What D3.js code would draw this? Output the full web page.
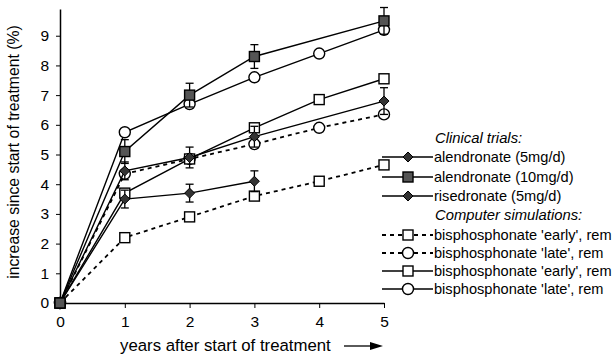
<!DOCTYPE html>
<html>
<head>
<meta charset="utf-8">
<script src="https://cdn.jsdelivr.net/npm/d3@7"></script>
<style>
  body { margin: 0; background: #fff; }
  svg { display: block; font-family: "Liberation Sans", Arial, sans-serif; }
</style>
</head>
<body>
<div id="chart"></div>
<script>
// clinical trials (years, mean, error)
const aln5Years = [0, 1, 2, 3, 5];
const aln5Vals = [0, 4.45, 4.9, 5.6, 6.8];
const aln5Err = [0, 0.3, 0.35, 0.35, 0.45];

const aln10Years = [0, 1, 2, 3, 5];
const aln10Vals = [0, 5.1, 7.0, 8.3, 9.5];
const aln10Err = [0, 0.4, 0.4, 0.4, 0.45];

const risYears = [0, 1, 2, 3];
const risVals = [0, 3.5, 3.7, 4.1];
const risErr = [0, 0.3, 0.3, 0.35];

// computer simulations
const simYears = [0, 1, 2, 3, 4, 5];
const earlyDashed = [0, 2.2, 2.9, 3.6, 4.1, 4.65];
const lateDashed = [0, 4.35, 4.85, 5.35, 5.9, 6.35];
const earlySolid = [0, 3.7, 4.85, 5.9, 6.85, 7.55];
const lateSolid = [0, 5.75, 6.7, 7.6, 8.4, 9.2];

const xTicks = [0, 1, 2, 3, 4, 5];
const yTicks = [0, 1, 2, 3, 4, 5, 6, 7, 8, 9];

// the labels run past the right edge in the original, only the start shows
const legendLabels = [
    "alendronate (5mg/d)",
    "alendronate (10mg/d)",
    "risedronate (5mg/d)",
    "bisphosphonate 'early', rem",
    "bisphosphonate 'late', rem",
    "bisphosphonate 'early', rem",
    "bisphosphonate 'late', rem"
];

const width = 615;
const height = 357;

const x = d3.scaleLinear().domain([0, 5]).range([60, 384]);
const y = d3.scaleLinear().domain([0, 9.9]).range([303, 9]);

const svg = d3.select("#chart")
    .append("svg")
    .attr("width", width)
    .attr("height", height);

// axes
const xAxis = svg.append("g")
    .attr("transform", "translate(0," + y(0) + ")")
    .call(d3.axisBottom(x).tickValues(xTicks).tickFormat(d3.format("d"))
        .tickSize(5).tickPadding(8).tickSizeOuter(0));
xAxis.select(".domain").attr("stroke-width", 1.5);
xAxis.selectAll("text").attr("font-size", 15.5).attr("fill", "#000");

const yAxis = svg.append("g")
    .attr("transform", "translate(" + x(0) + ",0)")
    .call(d3.axisLeft(y).tickValues(yTicks).tickFormat(d3.format("d"))
        .tickSize(4).tickPadding(7).tickSizeOuter(0));
yAxis.select(".domain").attr("stroke-width", 1.5);
yAxis.selectAll("text").attr("font-size", 15.5).attr("fill", "#000");

svg.append("text")
    .attr("transform", "translate(19,152) rotate(-90)")
    .attr("text-anchor", "middle")
    .attr("font-size", 15.8)
    .text("increase since start of treatment (%)");

svg.append("text")
    .attr("x", 120)
    .attr("y", 351)
    .attr("font-size", 16.8)
    .text("years after start of treatment");

// arrow
svg.append("line")
    .attr("x1", 344).attr("x2", 372)
    .attr("y1", 346).attr("y2", 346)
    .attr("stroke", "#000").attr("stroke-width", 1.3);
svg.append("path")
    .attr("d", "M370,342 L383,346 L370,350 Z")
    .attr("fill", "#000");

const line = d3.line()
    .x(d => x(d[0]))
    .y(d => y(d[1]));

function marker(g, type, cx, cy) {
    if (type === "square") {
        g.append("rect")
            .attr("x", cx - 5).attr("y", cy - 5)
            .attr("width", 10).attr("height", 10)
            .attr("fill", "#fff").attr("stroke", "#000").attr("stroke-width", 1.4);
    } else if (type === "gsquare") {
        g.append("rect")
            .attr("x", cx - 5).attr("y", cy - 5)
            .attr("width", 10).attr("height", 10)
            .attr("fill", "#555").attr("stroke", "#000").attr("stroke-width", 1.4);
    } else if (type === "circle") {
        g.append("circle")
            .attr("cx", cx).attr("cy", cy).attr("r", 5.5)
            .attr("fill", "#fff").attr("stroke", "#000").attr("stroke-width", 1.4);
    } else if (type === "diamond") {
        g.append("path")
            .attr("d", "M" + cx + "," + (cy - 5) + " L" + (cx + 5) + "," + cy + " L" + cx + "," + (cy + 5) + " L" + (cx - 5) + "," + cy + " Z")
            .attr("fill", "#333").attr("stroke", "#000").attr("stroke-width", 1);
    }
}

const series = [
    {xs: simYears, ys: earlyDashed, err: null, type: "square", dash: "4,4"},
    {xs: simYears, ys: lateDashed, err: null, type: "circle", dash: "4,4"},
    {xs: simYears, ys: earlySolid, err: null, type: "square", dash: null},
    {xs: simYears, ys: lateSolid, err: null, type: "circle", dash: null},
    {xs: risYears, ys: risVals, err: risErr, type: "diamond", dash: null},
    {xs: aln5Years, ys: aln5Vals, err: aln5Err, type: "diamond", dash: null},
    {xs: aln10Years, ys: aln10Vals, err: aln10Err, type: "gsquare", dash: null}
];

series.forEach(function(s) {
    const pts = s.xs.map((v, i) => [v, s.ys[i]]);
    const g = svg.append("g");
    g.append("path")
        .attr("d", line(pts))
        .attr("fill", "none")
        .attr("stroke", "#000")
        .attr("stroke-width", s.dash ? 1.8 : 1.4)
        .attr("stroke-dasharray", s.dash);
    if (s.err) {
        pts.forEach(function(p, i) {
            const e = s.err[i];
            if (!e) return;
            const cx = x(p[0]);
            g.append("line")
                .attr("x1", cx).attr("x2", cx)
                .attr("y1", y(p[1] - e)).attr("y2", y(p[1] + e))
                .attr("stroke", "#000").attr("stroke-width", 1.3);
            [p[1] - e, p[1] + e].forEach(function(v) {
                g.append("line")
                    .attr("x1", cx - 4).attr("x2", cx + 4)
                    .attr("y1", y(v)).attr("y2", y(v))
                    .attr("stroke", "#000").attr("stroke-width", 1.3);
            });
        });
    }
    pts.forEach(p => marker(g, s.type, x(p[0]), y(p[1])));
});

// legend
const legendRows = [
    {y: 157, type: "diamond", dash: null},
    {y: 177, type: "gsquare", dash: null},
    {y: 196, type: "diamond", dash: null},
    {y: 235, type: "square", dash: "4,4"},
    {y: 253, type: "circle", dash: "4,4"},
    {y: 271, type: "square", dash: null},
    {y: 289, type: "circle", dash: null}
];

const leg = svg.append("g");
leg.append("text")
    .attr("x", 435).attr("y", 143)
    .attr("font-size", 14.8).attr("font-style", "italic")
    .text("Clinical trials:");
leg.append("text")
    .attr("x", 435).attr("y", 220)
    .attr("font-size", 14.8).attr("font-style", "italic")
    .text("Computer simulations:");

legendRows.forEach(function(r, i) {
    leg.append("line")
        .attr("x1", 382).attr("x2", 433)
        .attr("y1", r.y).attr("y2", r.y)
        .attr("stroke", "#000")
        .attr("stroke-width", r.dash ? 1.8 : 1.4)
        .attr("stroke-dasharray", r.dash);
    marker(leg, r.type, 408, r.y);
    leg.append("text")
        .attr("x", 434).attr("y", r.y + 5)
        .attr("font-size", 14.6)
        .text(legendLabels[i]);
});
</script>
</body>
</html>
